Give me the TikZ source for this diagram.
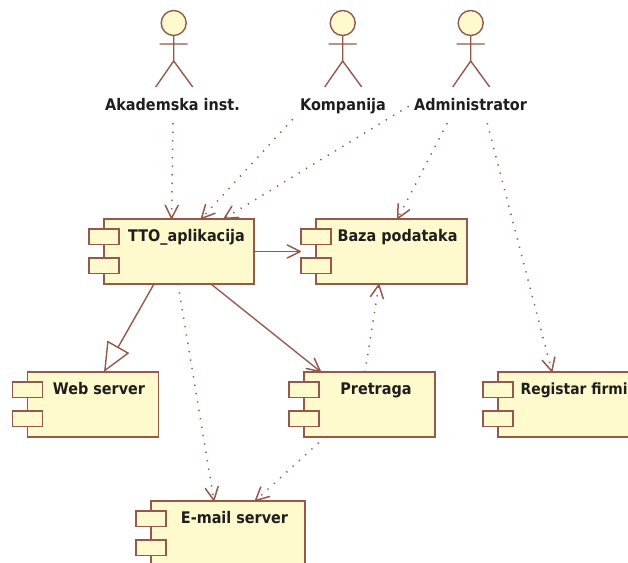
\documentclass[tikz,border=0pt]{standalone}
\usepackage{fontspec}
\setmainfont{DejaVu Sans}[BoldFeatures={FakeStretch=0.9}]
\usetikzlibrary{arrows.meta,calc}
\definecolor{umlline}{HTML}{935A4C}
\definecolor{umlfill}{HTML}{FFFACD}
\definecolor{umltext}{HTML}{1E1E1E}
\tikzset{
  x=1pt,y=-1pt,
  body/.style={draw=umlline,fill=umlfill,line width=1.5pt,rectangle,inner sep=0pt,outer sep=0pt,anchor=north west},
  port/.style={draw=umlline,fill=umlfill,line width=1.5pt,rectangle,inner sep=0pt,outer sep=0pt,minimum width=30pt,minimum height=15.5pt,anchor=north west},
  lbl/.style={text=umltext,font=\fontsize{16}{19}\selectfont\bfseries,anchor=base,inner sep=0pt},
  barb/.style={-{Straight Barb[length=13pt,width=13pt,line width=1.5pt,round]}},
  dep/.style={barb,draw=umlline,line width=1.5pt,dash pattern=on 1.3pt off 7.2pt},
  assoc/.style={barb,draw=umlline,line width=1.4pt},
  ext/.style={-{Triangle[open,length=29pt,width=25pt,fill=white,line width=1.4pt]},draw=umlline,line width=1.4pt},
}
\newcommand{\compbox}[5]{% name, x, y, w, h
  \node[body,minimum width=#4pt,minimum height=#5pt] (#1) at (#2,#3) {};
  \node[port] (#1p1) at (#2-15,#3+10) {};
  \node[port] (#1p2) at (#2-15,#3+39) {};
}
\newcommand{\actorfig}[2]{% name, centre x
  \node[circle,draw=umlline,fill=umlfill,line width=1.4pt,minimum size=25pt,inner sep=0pt] (#1) at (#2,23) {};
  \draw[umlline,line width=1.4pt] (#1.south) -- (#2,61) -- (#2-18,87) (#2,61) -- (#2+19,87) (#2-14,44) -- (#2+14,44);
}
\begin{document}
\begin{tikzpicture}
\useasboundingbox (0,0) rectangle (628,562);
\clip (0,0) rectangle (628,562);
\fill[white] (0,0) rectangle (628,562);
\actorfig{akad}{173.7}
\actorfig{komp}{342.7}
\actorfig{admin}{470.7}
\node[lbl] (akadl) at (172.5,110.7) {Akademska inst.};
\node[lbl] (kompl) at (343,110.7) {Kompanija};
\node[lbl] (adminl) at (470.5,110.7) {Administrator};
\compbox{tto}{104}{219}{150}{65}
\compbox{baza}{316}{219}{151}{65}
\compbox{web}{27.5}{372}{131}{65}
\compbox{pret}{304}{372}{131}{65}
\compbox{reg}{498}{372}{165}{65}
\compbox{mail}{151}{501}{154}{65}
\node[lbl] (ttol) at (186.5,241.7) {TTO\_aplikacija};
\node[lbl] (bazal) at (397.5,241.7) {Baza podataka};
\node[lbl] (webl) at (99,394.3) {Web server};
\node[lbl] (pretl) at (376,394.3) {Pretraga};
\node[lbl,anchor=base west,font=\fontsize{15.4}{18}\selectfont\bfseries] (regl) at (520.5,394.3) {Registar firmi};
\node[lbl] (maill) at (234.5,523.3) {E-mail server};
% connectors
\draw[dep] ($(akad.south)+(-0.7,87)$) -- ($(tto.north)+(-7.5,0)$);
\draw[dep] ($(komp.south)+(-50,83)$) -- ($(tto.north)+(22,0)$);
\draw[dep] ($(admin.south)+(-62,70)$) -- ($(tto.north)+(44.5,0)$);
\draw[dep] ($(admin.south)+(-23.5,87)$) -- ($(baza.north)+(6,0)$);
\draw[dep] ($(admin.south)+(16.5,87)$) -- ($(reg.north)+(-28.5,0)$);
\draw[assoc] (tto.east) -- (baza.west -| bazap1.west);
\draw[ext] ($(tto.south)+(-25,0)$) -- ($(web.north)+(11,0)$);
\draw[assoc] ($(tto.south)+(32,0)$) -- ($(pret.north)+(-48.5,0)$);
\draw[dep] ($(pret.north)+(-4.5,0)$) -- ($(baza.south)+(-12.5,0)$);
\draw[dep] ($(tto.south)+(-1,0)$) -- ($(mail.north)+(-14,0)$);
\draw[dep] ($(pret.south)+(-44.5,0)$) -- ($(mail.north)+(27,0)$);
\end{tikzpicture}
\end{document}
